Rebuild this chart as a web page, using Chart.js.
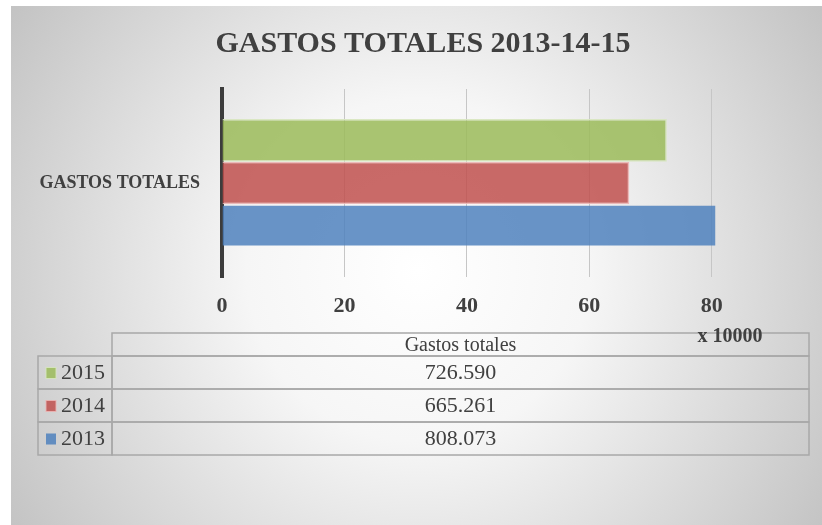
<!DOCTYPE html>
<html>
<head>
<meta charset="utf-8">
<script src="https://cdn.jsdelivr.net/npm/chart.js@4/dist/chart.umd.min.js"></script>
<style>
  html, body { margin: 0; padding: 0; background: #fff; }
  #wrap { width: 822px; height: 525px; }
</style>
</head>
<body>
<div id="wrap"><canvas id="c" width="822" height="525"></canvas></div>
<script>
// chart data
const categories = ['GASTOS TOTALES']
const seriesLabels = ['2015', '2014', '2013']
const seriesValues = [726590, 665261, 808073] // euros
const seriesColors = ['rgba(155,187,89,0.85)', 'rgba(192,80,77,0.85)', 'rgba(79,129,189,0.85)']
const seriesBorders = ['rgba(215,230,190,0.9)', 'rgba(235,180,178,0.9)', 'rgba(79,129,189,0)']
const tableHeader = 'Gastos totales'
const displayUnit = 10000 // axis shown as "x 10000"
const axisTicks = [0, 20, 40, 60, 80]

const serif = "'Liberation Serif', 'Times New Roman', serif"
const textColor = '#404040'

// format 726590 -> 726.590
const fmt = (v) => String(v).replace(/\B(?=(\d{3})+(?!\d))/g, '.')

// gradient background of the chart area
const background = {
  id: 'background',
  beforeDraw(chart) {
    const { ctx, width, height } = chart
    ctx.save()
    ctx.fillStyle = '#fff'
    ctx.fillRect(0, 0, width, height)
    const g = ctx.createRadialGradient(418, 270, 0, 418, 270, 490)
    g.addColorStop(0, '#ffffff')
    g.addColorStop(0.35, '#f6f6f6')
    g.addColorStop(1, '#c2c2c2')
    ctx.fillStyle = g
    ctx.fillRect(11, 6, width - 11, height - 6)
    ctx.restore()
  },
}

// data table under the axis, like Excel's "data table with legend keys"
const dataTable = {
  id: 'dataTable',
  afterDraw(chart) {
    const { ctx } = chart
    const left = 38, split = 112, right = 809
    const top = 333, headH = 23, rowH = 33
    ctx.save()
    ctx.strokeStyle = '#a8a8a8'
    ctx.lineWidth = 1.5
    // header cell
    ctx.strokeRect(split, top, right - split, headH)
    // rows
    seriesLabels.forEach((lab, i) => {
      const y = top + headH + i * rowH
      ctx.strokeRect(left, y, split - left, rowH)
      ctx.strokeRect(split, y, right - split, rowH)
    })
    ctx.fillStyle = textColor
    ctx.textBaseline = 'middle'
    ctx.textAlign = 'center'
    ctx.font = `20px ${serif}`
    ctx.fillText(tableHeader, (split + right) / 2, top + headH / 2 + 1)
    seriesLabels.forEach((lab, i) => {
      const yc = top + headH + i * rowH + rowH / 2 + 1
      // legend key
      ctx.fillStyle = seriesColors[i]
      ctx.fillRect(46, yc - 6, 10, 11)
      ctx.strokeStyle = seriesBorders[i]
      ctx.lineWidth = 1
      ctx.strokeRect(46, yc - 6, 10, 11)
      ctx.fillStyle = textColor
      ctx.font = `22px ${serif}`
      ctx.textAlign = 'left'
      ctx.fillText(lab, 61, yc)
      ctx.textAlign = 'center'
      ctx.fillText(fmt(seriesValues[i]), (split + right) / 2, yc)
    })
    // display unit label
    ctx.font = `bold 20px ${serif}`
    ctx.textAlign = 'center'
    ctx.fillText('x ' + displayUnit, 730, 337)
    ctx.restore()
  },
}

new Chart(document.getElementById('c'), {
  type: 'bar',
  data: {
    labels: categories,
    datasets: seriesLabels.map((lab, i) => ({
      label: lab,
      data: [seriesValues[i] / displayUnit],
      backgroundColor: seriesColors[i],
      borderColor: seriesBorders[i],
      borderWidth: 1.5,
      borderSkipped: 'start',
      categoryPercentage: 0.68,
      barPercentage: 1.0,
    })),
  },
  options: {
    indexAxis: 'y',
    responsive: false,
    animation: false,
    layout: { padding: { left: 24, right: 0, top: 0, bottom: 0 } },
    plugins: {
      legend: { display: false },
      tooltip: { enabled: false },
      title: {
        display: true,
        text: 'GASTOS TOTALES 2013-14-15',
        color: textColor,
        font: { family: serif, size: 30, weight: 'bold' },
        padding: { top: 26, bottom: 27 },
      },
    },
    scales: {
      x: {
        min: 0,
        max: 98,
        afterBuildTicks: (axis) => {
          axis.ticks = axisTicks.map((v) => ({ value: v }))
        },
        afterFit: (scale) => { scale.height = 248 },
        grid: {
          color: (c) => (c.tick && c.tick.value === 0 ? 'rgba(0,0,0,0)' : '#c6c6c6'),
          lineWidth: 1,
          drawTicks: false,
        },
        border: { display: false },
        ticks: {
          color: textColor,
          font: { family: serif, size: 22, weight: 'bold' },
          padding: 16,
          maxRotation: 0,
        },
      },
      y: {
        afterFit: (scale) => { scale.width = 198 },
        grid: { display: false, drawTicks: false },
        border: { display: true, color: '#3c3c3c', width: 4 },
        ticks: {
          color: textColor,
          font: { family: serif, size: 18, weight: 'bold' },
          padding: 22,
        },
      },
    },
  },
  plugins: [background, dataTable],
})
</script>
</body>
</html>
